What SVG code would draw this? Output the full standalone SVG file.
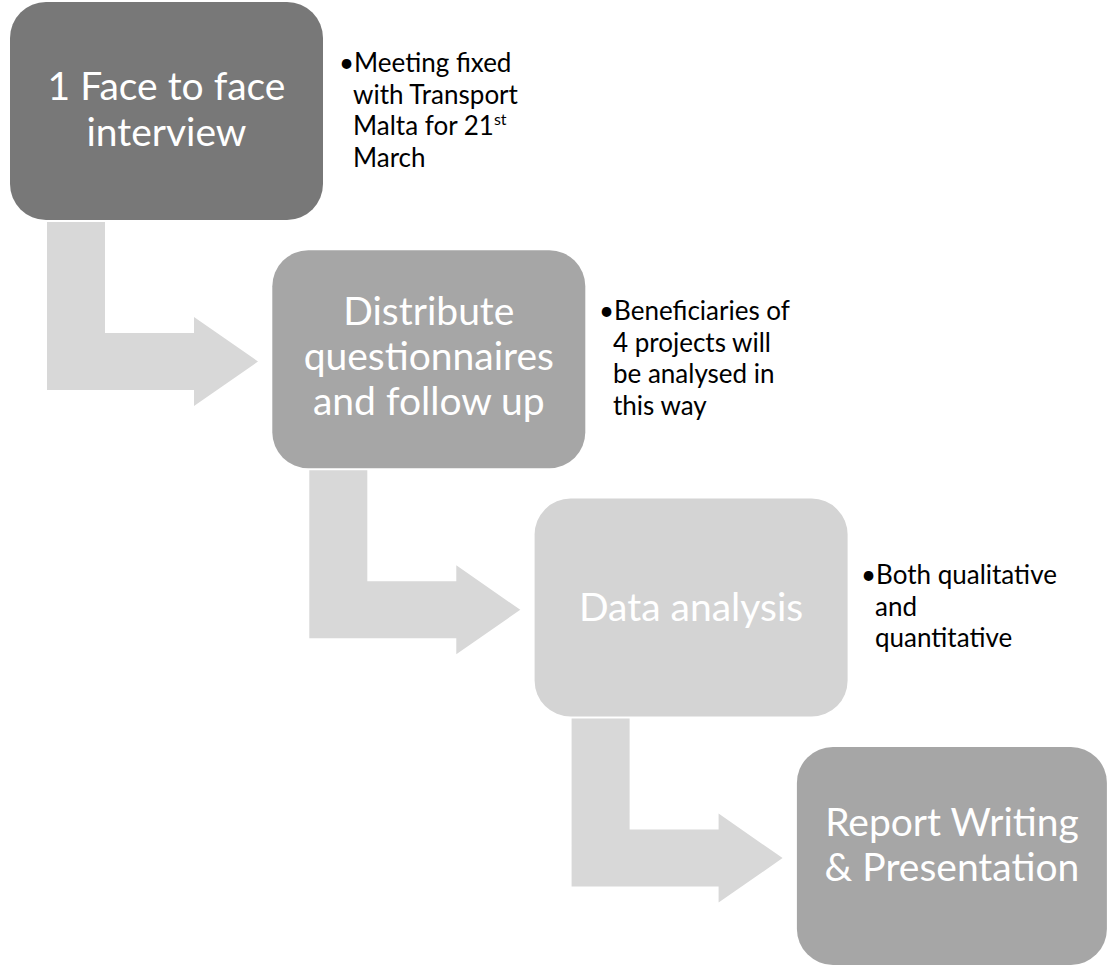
<svg xmlns="http://www.w3.org/2000/svg" xmlns:xlink="http://www.w3.org/1999/xlink" width="1109" height="967" viewBox="0 0 1109 967">
  <style>
    .box { stroke: none; }
    .b1 { fill: #787878; }
    .b2 { fill: #a6a6a6; }
    .b3 { fill: #d4d4d4; }
    .arrow { fill: #d8d8d8; }
    .label { font-family: Lato, "Liberation Sans", sans-serif; font-size: 39px; fill: #ffffff; text-anchor: middle; }
    .note { font-family: Lato, "Liberation Sans", sans-serif; font-size: 26px; fill: #000000; }
    .sup { font-size: 16px; }
  </style>
  <defs>
    <path id="bend" d="M47,222 L105,222 L105,333 L194,333 L194,317 L258,361.5 L194,406 L194,390 L47,390 Z"/>
  </defs>
  <rect width="1109" height="967" fill="#ffffff"/>

  <g id="connectors">
    <use xlink:href="#bend" class="arrow"/>
    <use xlink:href="#bend" class="arrow" transform="translate(262.3,248.3)"/>
    <use xlink:href="#bend" class="arrow" transform="translate(524.6,496.6)"/>
  </g>

  <g id="node1">
    <rect class="box b1" x="10" y="2" width="313" height="218" rx="36"/>
    <text class="label" x="166.5" y="100">1 Face to face</text>
    <text class="label" x="166.5" y="146">interview</text>
  </g>
  <g id="note1">
    <text class="note" x="339" y="72">•Meeting fixed</text>
    <text class="note" x="353" y="103.5">with Transport</text>
    <text class="note" x="353" y="135">Malta for 21<tspan class="sup" dy="-10">st</tspan></text>
    <text class="note" x="353" y="166.5">March</text>
  </g>

  <g id="node2">
    <rect class="box b2" x="272.3" y="250.3" width="313" height="218" rx="36"/>
    <text class="label" x="428.8" y="325">Distribute</text>
    <text class="label" x="428.8" y="370">questionnaires</text>
    <text class="label" x="428.8" y="415">and follow up</text>
  </g>
  <g id="note2">
    <text class="note" x="599" y="320">•Beneficiaries of</text>
    <text class="note" x="613" y="351.5">4 projects will</text>
    <text class="note" x="613" y="383">be analysed in</text>
    <text class="note" x="613" y="414.5">this way</text>
  </g>

  <g id="node3">
    <rect class="box b3" x="534.6" y="498.6" width="313" height="218" rx="36"/>
    <text class="label" x="691.1" y="621">Data analysis</text>
  </g>
  <g id="note3">
    <text class="note" x="861" y="584">•Both qualitative</text>
    <text class="note" x="875" y="615.5">and</text>
    <text class="note" x="875" y="647">quantitative</text>
  </g>

  <g id="node4">
    <rect class="box b2" x="796.9" y="746.9" width="310" height="218" rx="36"/>
    <text class="label" x="952" y="836">Report Writing</text>
    <text class="label" x="952" y="881">&amp; Presentation</text>
  </g>
</svg>
